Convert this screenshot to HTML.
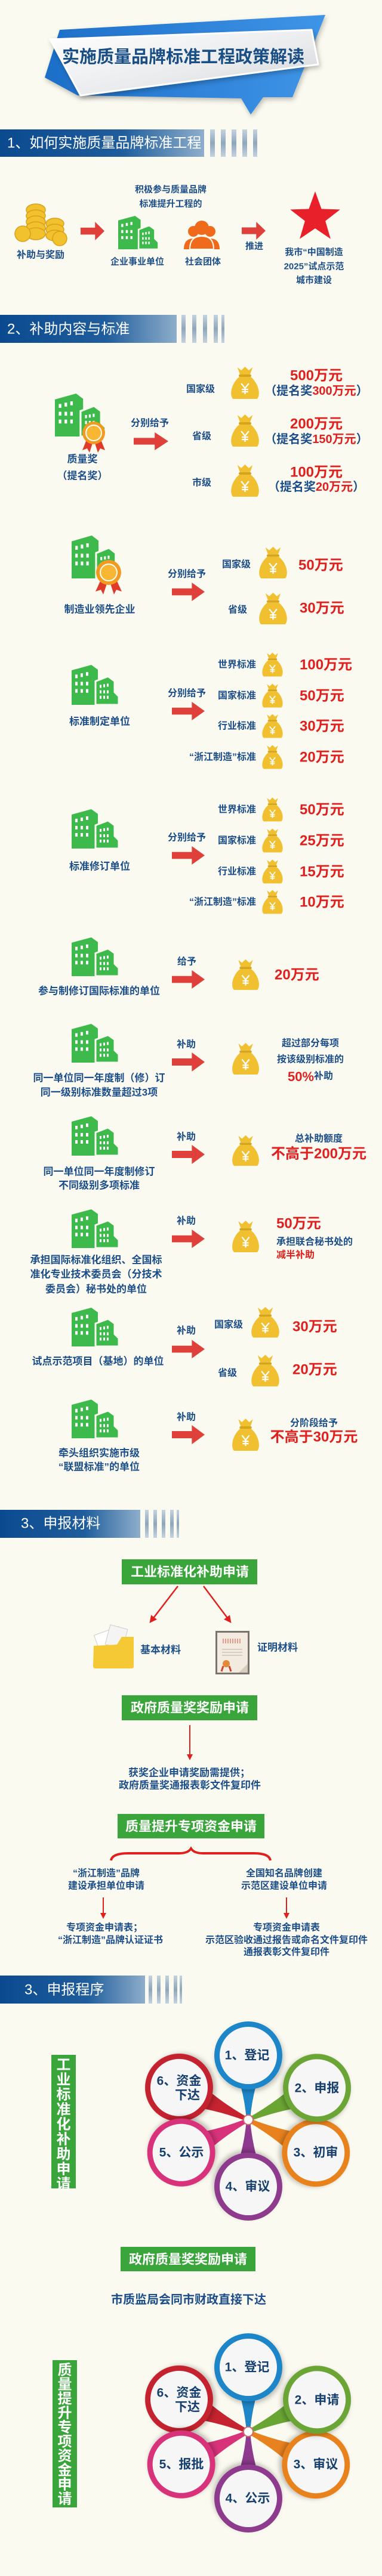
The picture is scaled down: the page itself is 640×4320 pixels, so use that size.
<!DOCTYPE html>
<html><head><meta charset="utf-8">
<style>
html,body{margin:0;padding:0;background:#fbfaf0;}
svg{display:block}
text{font-family:"Liberation Sans","Noto Sans CJK SC",sans-serif;font-weight:700;fill:#1c4e8a;dominant-baseline:central}
.m{text-anchor:middle}
.e{text-anchor:end}
.red{fill:#e0201e}
.w{fill:#fff}
.h{font-weight:400;fill:#fff;font-size:24px}
.s16{font-size:16px}.s15{font-size:15px}.s17{font-size:17px}.s20{font-size:20px}.s24{font-size:24px}
.c{font-size:21px;fill:#17406f}
</style></head>
<body>
<svg width="640" height="4320" viewBox="0 0 640 4320" xmlns="http://www.w3.org/2000/svg">
<defs>
<linearGradient id="hdr" x1="0" x2="1"><stop offset="0" stop-color="#0b4a8f"/><stop offset="0.6" stop-color="#1f5d9c"/><stop offset="1" stop-color="#8eaecb"/></linearGradient>
<linearGradient id="str" x1="0" y1="0" x2="0" y2="1"><stop offset="0" stop-color="#c5d3df"/><stop offset="0.5" stop-color="#8fa6bb"/><stop offset="1" stop-color="#c5d3df"/></linearGradient>
<linearGradient id="blu" x1="0" x2="1"><stop offset="0" stop-color="#1d6fc8"/><stop offset="1" stop-color="#3f95e8"/></linearGradient>
<linearGradient id="plate" x1="0" y1="0" x2="1" y2="1"><stop offset="0" stop-color="#ffffff"/><stop offset="0.6" stop-color="#e9eaec"/><stop offset="1" stop-color="#c9cdd1"/></linearGradient>
<filter id="sh" x="-20%" y="-20%" width="140%" height="150%"><feDropShadow dx="2" dy="4" stdDeviation="4" flood-color="#000" flood-opacity="0.25"/></filter>
<symbol id="bld" viewBox="0 0 82 66" preserveAspectRatio="none">
<path d="M0 9 L33 0 L44 8 L44 66 L0 66Z" fill="#3dba4b"/>
<path d="M40 27 L61 19 L72 27 L72 45 L79 52 L79 66 L40 66Z" fill="#3dba4b" stroke="#fbfaf0" stroke-width="3"/>
<g fill="#fff"><rect x="6" y="16" width="4" height="6"/><rect x="15" y="14" width="4" height="6"/><rect x="24" y="12" width="4" height="6"/>
<rect x="6" y="28" width="4" height="6"/><rect x="15" y="28" width="4" height="6"/><rect x="24" y="28" width="4" height="6"/>
<rect x="6" y="40" width="4" height="6"/><rect x="15" y="40" width="4" height="6"/><rect x="24" y="40" width="4" height="6"/>
<rect x="47" y="33" width="3" height="5"/><rect x="53" y="32" width="3" height="5"/><rect x="59" y="31" width="3" height="5"/>
<rect x="47" y="42" width="3" height="5"/><rect x="53" y="42" width="3" height="5"/><rect x="59" y="42" width="3" height="5"/>
<rect x="47" y="51" width="3" height="5"/><rect x="53" y="51" width="3" height="5"/><rect x="59" y="51" width="3" height="5"/></g>
</symbol>
<symbol id="bag" viewBox="0 0 50 58" preserveAspectRatio="none">
<path d="M13 3 L19 8 L25 2 L31 8 L37 3 L33 15 L17 15Z" fill="#f0c030"/>
<rect x="15" y="15" width="20" height="4" rx="2" fill="#d6a51e"/>
<path d="M16 19 C3 30 0 50 6 56 L44 56 C50 50 47 30 34 19Z" fill="#f0c030"/>
<path d="M19 30 L25 38 L31 30 M25 38 V48 M20 40 H30 M20 44 H30" stroke="#fff" stroke-width="2.2" fill="none"/>
</symbol>
<symbol id="arr" viewBox="0 0 56 32" preserveAspectRatio="none">
<path d="M0 10 H34 V0 L56 16 L34 32 V22 H0Z" fill="#e0403a"/>
</symbol>
<marker id="ah" viewBox="0 0 10 10" refX="8" refY="5" markerWidth="5" markerHeight="5" orient="auto"><path d="M0 0 L10 5 L0 10Z" fill="#e0201e"/></marker>
<g id="flower">
<g transform="translate(416,3555)">
<g transform="rotate(-65)"><path d="M-3 0 Q-8 -70 -32 -128 L32 -128 Q8 -70 3 0Z" fill="#c4232f"/><circle cx="0" cy="-128" r="57" fill="#c4232f" filter="url(#sh)"/><circle cx="0" cy="-128" r="48" fill="#f6f6f6"/></g>
<g transform="rotate(-116)"><path d="M-3 0 Q-8 -70 -32 -125 L32 -125 Q8 -70 3 0Z" fill="#d8327a"/><circle cx="0" cy="-125" r="57" fill="#d8327a" filter="url(#sh)"/><circle cx="0" cy="-125" r="48" fill="#f6f6f6"/></g>
<g transform="rotate(116)"><path d="M-3 0 Q-8 -70 -32 -126 L32 -126 Q8 -70 3 0Z" fill="#e8821e"/><circle cx="0" cy="-126" r="57" fill="#e8821e" filter="url(#sh)"/><circle cx="0" cy="-126" r="48" fill="#f6f6f6"/></g>
<g transform="rotate(65)"><path d="M-3 0 Q-8 -70 -32 -127 L32 -127 Q8 -70 3 0Z" fill="#6aa534"/><circle cx="0" cy="-127" r="57" fill="#6aa534" filter="url(#sh)"/><circle cx="0" cy="-127" r="48" fill="#f6f6f6"/></g>
<g transform="rotate(180)"><path d="M-3 0 Q-8 -60 -32 -112 L32 -112 Q8 -60 3 0Z" fill="#8e3a8e"/><circle cx="0" cy="-112" r="57" fill="#8e3a8e" filter="url(#sh)"/><circle cx="0" cy="-112" r="48" fill="#f6f6f6"/></g>
<g transform="rotate(0)"><path d="M-3 0 Q-8 -60 -32 -108 L32 -108 Q8 -60 3 0Z" fill="#1f86c8"/><circle cx="0" cy="-108" r="57" fill="#1f86c8" filter="url(#sh)"/><circle cx="0" cy="-108" r="48" fill="#f6f6f6"/></g>
<circle r="8" fill="#fff" stroke="#d06a6a" stroke-width="2"/>
</g>
</g>
</defs>

<!-- Title banner -->
<polygon points="100,50 545,25 490,163 441,163 420,192 404,165 130,160 75,130" fill="url(#blu)" filter="url(#sh)"/>
<polygon points="84,66 522,50 533,108 135,160" fill="url(#plate)" filter="url(#sh)" stroke="#fff" stroke-width="3" stroke-linejoin="round"/>
<text x="307" y="96" class="m" style="font-size:29px;fill:#1a4f86">实施质量品牌标准工程政策解读</text>

<!-- Section 1 header -->
<rect x="0" y="217" width="342" height="46" fill="url(#hdr)"/>
<g fill="url(#str)"><rect x="352" y="217" width="8" height="46"/><rect x="370" y="217" width="8" height="46"/><rect x="388" y="217" width="8" height="46"/><rect x="406" y="217" width="8" height="46"/><rect x="424" y="217" width="7" height="46"/></g>
<text x="12" y="240" class="h">1、如何实施质量品牌标准工程</text>

<text x="286" y="318" class="m s15">积极参与质量品牌</text>
<text x="286" y="342" class="m s15">标准提升工程的</text>
<!-- coins -->
<g fill="#f2c12e" stroke="#d9a11a" stroke-width="1.5">
<ellipse cx="60" cy="352" rx="16" ry="10"/><ellipse cx="60" cy="362" rx="16" ry="10"/><ellipse cx="60" cy="372" rx="16" ry="10"/><ellipse cx="60" cy="382" rx="16" ry="10"/><ellipse cx="60" cy="392" rx="16" ry="10"/>
<ellipse cx="92" cy="375" rx="15" ry="9"/><ellipse cx="92" cy="385" rx="15" ry="9"/><ellipse cx="92" cy="395" rx="15" ry="9"/>
<circle cx="38" cy="392" r="13"/><circle cx="100" cy="400" r="12"/>
</g>
<text x="68" y="428" class="m s16">补助与奖励</text>
<use href="#arr" x="135" y="372" width="40" height="31"/>
<use href="#bld" x="198" y="362" width="70" height="56"/>
<text x="230" y="439" class="m s15">企业事业单位</text>
<g fill="#f06a1c">
<circle cx="324" cy="388" r="9"/><path d="M308 418 Q308 400 324 400 Q340 400 340 418Z"/>
<circle cx="352" cy="388" r="9"/><path d="M336 418 Q336 400 352 400 Q368 400 368 418Z"/>
<circle cx="338" cy="382" r="12"/><path d="M318 418 Q318 396 338 396 Q358 396 358 418Z" stroke="#fbfaf0" stroke-width="2"/>
</g>
<text x="340" y="439" class="m s15">社会团体</text>
<use href="#arr" x="405" y="372" width="40" height="30"/>
<text x="426" y="413" class="m s15">推进</text>
<polygon points="528,321 538.6,350.4 569.8,351.4 545.1,370.6 553.9,400.6 528,383 502.1,400.6 510.9,370.6 486.2,351.4 517.4,350.4" fill="#e8202a"/>
<text x="526" y="423" class="m s15">我市“中国制造</text>
<text x="526" y="447" class="m s15">2025”试点示范</text>
<text x="526" y="470" class="m s15">城市建设</text>

<!-- Section 2 header -->
<rect x="0" y="528" width="296" height="47" fill="url(#hdr)"/>
<g fill="url(#str)"><rect x="304" y="528" width="7" height="47"/><rect x="322" y="528" width="7" height="47"/><rect x="340" y="528" width="7" height="47"/><rect x="358" y="528" width="7" height="47"/><rect x="371" y="528" width="5" height="47"/></g>
<text x="12" y="552" class="h">2、补助内容与标准</text>

<!-- Quality award -->
<use href="#bld" x="92" y="660" width="88" height="72"/>
<g><path d="M146 735 L138 755 L146 752 L150 759 L156 740Z" fill="#e03a2a"/><path d="M168 735 L176 755 L168 752 L164 759 L158 740Z" fill="#e03a2a"/>
<circle cx="157" cy="726" r="19" fill="#f39a1e"/><circle cx="157" cy="726" r="13" fill="#f7b733" stroke="#fff" stroke-width="2"/></g>
<text x="138" y="770" class="m s17">质量奖</text>
<text x="138" y="798" class="m s17">（提名奖）</text>
<text x="251" y="710" class="m s16">分别给予</text>
<use href="#arr" x="224" y="725" width="58" height="30"/>
<text x="336" y="653" class="m s16">国家级</text>
<use href="#bag" x="384" y="613" width="53" height="58"/>
<text x="530" y="630" class="m s24 red">500万元</text>
<text x="530" y="656" class="m s20">（提名奖<tspan class="red">300万元</tspan>）</text>
<text x="338" y="732" class="m s16">省级</text>
<use href="#bag" x="384" y="693" width="53" height="58"/>
<text x="530" y="711" class="m s24 red">200万元</text>
<text x="530" y="737" class="m s20">（提名奖<tspan class="red">150万元</tspan>）</text>
<text x="338" y="810" class="m s16">市级</text>
<use href="#bag" x="384" y="777" width="53" height="58"/>
<text x="530" y="792" class="m s24 red">100万元</text>
<text x="530" y="817" class="m s20">（提名奖<tspan class="red">20万元</tspan>）</text>

<!-- Manufacturing leader -->
<use href="#bld" x="120" y="898" width="84" height="72"/>
<g><path d="M170 970 L160 992 L169 989 L173 997 L180 976Z" fill="#e03a2a"/><path d="M194 970 L204 992 L195 989 L191 997 L184 976Z" fill="#e03a2a"/>
<circle cx="182" cy="960" r="21" fill="#f39a1e"/><circle cx="182" cy="960" r="14" fill="#f7b733" stroke="#fff" stroke-width="2"/></g>
<text x="167" y="1022" class="m s17">制造业领先企业</text>
<text x="313" y="963" class="m s16">分别给予</text>
<use href="#arr" x="288" y="977" width="55" height="31"/>
<text x="396" y="947" class="m s16">国家级</text>
<use href="#bag" x="431" y="915" width="53" height="57"/>
<text x="500" y="948" class="s24 red">50万元</text>
<text x="398" y="1023" class="m s16">省级</text>
<use href="#bag" x="431" y="992" width="53" height="57"/>
<text x="502" y="1020" class="s24 red">30万元</text>

<!-- 标准制定单位 -->
<use href="#bld" x="120" y="1115" width="82" height="67"/>
<text x="167" y="1210" class="m s17">标准制定单位</text>
<text x="313" y="1163" class="m s16">分别给予</text>
<use href="#arr" x="288" y="1177" width="55" height="31"/>
<text x="429" y="1115" class="e s16">世界标准</text><use href="#bag" x="437" y="1093" width="39" height="43"/><text x="502" y="1115" class="s24 red">100万元</text>
<text x="429" y="1167" class="e s16">国家标准</text><use href="#bag" x="437" y="1145" width="39" height="43"/><text x="502" y="1167" class="s24 red">50万元</text>
<text x="429" y="1218" class="e s16">行业标准</text><use href="#bag" x="437" y="1196" width="39" height="43"/><text x="502" y="1218" class="s24 red">30万元</text>
<text x="429" y="1270" class="e s16">“浙江制造”标准</text><use href="#bag" x="437" y="1248" width="39" height="43"/><text x="502" y="1270" class="s24 red">20万元</text>

<!-- 标准修订单位 -->
<use href="#bld" x="120" y="1357" width="82" height="66"/>
<text x="167" y="1453" class="m s17">标准修订单位</text>
<text x="313" y="1405" class="m s16">分别给予</text>
<use href="#arr" x="288" y="1419" width="55" height="31"/>
<text x="429" y="1358" class="e s16">世界标准</text><use href="#bag" x="437" y="1336" width="39" height="43"/><text x="502" y="1358" class="s24 red">50万元</text>
<text x="429" y="1410" class="e s16">国家标准</text><use href="#bag" x="437" y="1388" width="39" height="43"/><text x="502" y="1410" class="s24 red">25万元</text>
<text x="429" y="1462" class="e s16">行业标准</text><use href="#bag" x="437" y="1440" width="39" height="43"/><text x="502" y="1462" class="s24 red">15万元</text>
<text x="429" y="1513" class="e s16">“浙江制造”标准</text><use href="#bag" x="437" y="1491" width="39" height="43"/><text x="502" y="1513" class="s24 red">10万元</text>

<!-- 参与制修订 -->
<use href="#bld" x="120" y="1572" width="82" height="65"/>
<text x="166" y="1662" class="m s17">参与制修订国际标准的单位</text>
<text x="313" y="1613" class="m s16">给予</text>
<use href="#arr" x="288" y="1627" width="55" height="31"/>
<use href="#bag" x="386" y="1607" width="51" height="55"/>
<text x="460" y="1635" class="s24 red">20万元</text>

<!-- 超过3项 -->
<use href="#bld" x="120" y="1717" width="82" height="65"/>
<text x="166" y="1808" class="m s17">同一单位同一年度制（修）订</text>
<text x="166" y="1832" class="m s17">同一级别标准数量超过3项</text>
<text x="312" y="1752" class="m s16">补助</text>
<use href="#arr" x="288" y="1765" width="55" height="32"/>
<use href="#bag" x="386" y="1747" width="51" height="57"/>
<text x="520" y="1750" class="m s16">超过部分每项</text>
<text x="520" y="1777" class="m s16">按该级别标准的</text>
<text x="520" y="1805" class="m s16"><tspan class="red" style="font-size:22px">50%</tspan>补助</text>

<!-- 不同级别 -->
<use href="#bld" x="120" y="1872" width="82" height="66"/>
<text x="166" y="1965" class="m s17">同一单位同一年度制修订</text>
<text x="166" y="1988" class="m s17">不同级别多项标准</text>
<text x="312" y="1907" class="m s16">补助</text>
<use href="#arr" x="288" y="1920" width="55" height="32"/>
<use href="#bag" x="386" y="1902" width="51" height="55"/>
<text x="534" y="1910" class="m s16">总补助额度</text>
<text x="534" y="1935" class="m s24 red">不高于200万元</text>

<!-- 承担国际 -->
<use href="#bld" x="120" y="2028" width="82" height="65"/>
<text x="161" y="2113" class="m s17">承担国际标准化组织、全国标</text>
<text x="161" y="2137" class="m s17">准化专业技术委员会（分技术</text>
<text x="161" y="2162" class="m s17">委员会）秘书处的单位</text>
<text x="312" y="2048" class="m s16">补助</text>
<use href="#arr" x="288" y="2062" width="55" height="31"/>
<use href="#bag" x="386" y="2045" width="51" height="57"/>
<text x="463" y="2052" class="s24 red">50万元</text>
<text x="463" y="2083" class="s16">承担联合秘书处的</text>
<text x="463" y="2105" class="s16 red">减半补助</text>

<!-- 试点示范 -->
<use href="#bld" x="120" y="2193" width="82" height="65"/>
<text x="164" y="2283" class="m s17">试点示范项目（基地）的单位</text>
<text x="312" y="2232" class="m s16">补助</text>
<use href="#arr" x="288" y="2247" width="55" height="31"/>
<text x="383" y="2222" class="m s16">国家级</text>
<use href="#bag" x="418" y="2190" width="53" height="55"/>
<text x="490" y="2225" class="s24 red">30万元</text>
<text x="381" y="2303" class="m s16">省级</text>
<use href="#bag" x="418" y="2270" width="53" height="57"/>
<text x="490" y="2297" class="s24 red">20万元</text>

<!-- 牵头 -->
<use href="#bld" x="120" y="2347" width="82" height="65"/>
<text x="166" y="2437" class="m s17">牵头组织实施市级</text>
<text x="166" y="2460" class="m s17">“联盟标准”的单位</text>
<text x="312" y="2377" class="m s16">补助</text>
<use href="#arr" x="288" y="2390" width="55" height="32"/>
<use href="#bag" x="386" y="2377" width="51" height="58"/>
<text x="526" y="2387" class="m s16">分阶段给予</text>
<text x="526" y="2410" class="m s24 red">不高于30万元</text>

<!-- Section 3 header -->
<rect x="0" y="2532" width="235" height="47" fill="url(#hdr)"/>
<g fill="url(#str)"><rect x="243" y="2532" width="6" height="47"/><rect x="257" y="2532" width="6" height="47"/><rect x="271" y="2532" width="6" height="47"/><rect x="285" y="2532" width="6" height="47"/><rect x="296" y="2532" width="4" height="47"/></g>
<text x="35" y="2555" class="h">3、申报材料</text>

<rect x="204" y="2615" width="227" height="42" fill="#3aa53a"/>
<text x="318" y="2636" class="m w" style="font-size:22px">工业标准化补助申请</text>
<line x1="298" y1="2660" x2="252" y2="2720" stroke="#e0201e" stroke-width="2.5" marker-end="url(#ah)"/>
<line x1="341" y1="2660" x2="386" y2="2720" stroke="#e0201e" stroke-width="2.5" marker-end="url(#ah)"/>
<!-- folder -->
<g><rect x="162" y="2734" width="44" height="34" fill="#fff" stroke="#ccc" transform="rotate(-20 184 2751)"/>
<rect x="180" y="2728" width="30" height="34" fill="#f4f4f4" stroke="#ccc" transform="rotate(15 195 2745)"/>
<path d="M157 2760 L196 2758 L204 2745 L224 2745 L224 2795 Q224 2798 220 2798 L160 2798 Q156 2798 156 2794Z" fill="#f5c935"/></g>
<text x="235" y="2767" class="s17">基本材料</text>
<!-- certificate -->
<g><rect x="361" y="2735" width="57" height="73" fill="#7a746e"/><rect x="364" y="2738" width="51" height="67" fill="#f3ebe0"/>
<g stroke="#d96a55" stroke-width="1.2"><line x1="374" y1="2748" x2="374" y2="2756"/><line x1="378" y1="2748" x2="378" y2="2756"/><line x1="382" y1="2748" x2="382" y2="2756"/><line x1="386" y1="2748" x2="386" y2="2756"/><line x1="390" y1="2748" x2="390" y2="2756"/><line x1="394" y1="2748" x2="394" y2="2756"/><line x1="398" y1="2748" x2="398" y2="2756"/><line x1="402" y1="2748" x2="402" y2="2756"/></g>
<g stroke="#b9ada0" stroke-width="1"><line x1="372" y1="2766" x2="406" y2="2766"/><line x1="372" y1="2771" x2="406" y2="2771"/><line x1="372" y1="2776" x2="406" y2="2776"/></g>
<circle cx="379" cy="2790" r="6" fill="#e08a3a"/><path d="M374 2794 L371 2803 M384 2794 L387 2803" stroke="#d0452a" stroke-width="3"/>
<path d="M415 2790 L400 2805 L415 2805Z" fill="#d8ccbc"/></g>
<text x="431" y="2763" class="s17">证明材料</text>

<rect x="204" y="2843" width="227" height="42" fill="#3aa53a"/>
<text x="318" y="2864" class="m w" style="font-size:22px">政府质量奖奖励申请</text>
<line x1="318" y1="2893" x2="318" y2="2950" stroke="#e0201e" stroke-width="2" marker-end="url(#ah)"/>
<text x="317" y="2973" class="m s17">获奖企业申请奖励需提供；</text>
<text x="318" y="2994" class="m s17">政府质量奖通报表彰文件复印件</text>

<rect x="197" y="3042" width="246" height="41" fill="#3aa53a"/>
<text x="320" y="3063" class="m w" style="font-size:22px">质量提升专项资金申请</text>
<path d="M186 3120 Q188 3108 215 3108 L300 3108 Q315 3108 320 3100 Q325 3108 340 3108 L425 3108 Q451 3108 453 3120" fill="none" stroke="#e0201e" stroke-width="4"/>
<text x="178" y="3142" class="m s16">“浙江制造”品牌</text>
<text x="178" y="3163" class="m s16">建设承担单位申请</text>
<text x="476" y="3142" class="m s16">全国知名品牌创建</text>
<text x="476" y="3163" class="m s16">示范区建设单位申请</text>
<line x1="173" y1="3182" x2="173" y2="3216" stroke="#e0201e" stroke-width="2" marker-end="url(#ah)"/>
<line x1="480" y1="3182" x2="480" y2="3216" stroke="#e0201e" stroke-width="2" marker-end="url(#ah)"/>
<text x="175" y="3233" class="m s16">专项资金申请表；</text>
<text x="185" y="3254" class="m s16">“浙江制造”品牌认证证书</text>
<text x="480" y="3233" class="m s16">专项资金申请表</text>
<text x="480" y="3254" class="m s16">示范区验收通过报告或命名文件复印件</text>
<text x="480" y="3274" class="m s16">通报表彰文件复印件</text>

<!-- Section 3b header -->
<rect x="0" y="3313" width="243" height="47" fill="url(#hdr)"/>
<g fill="url(#str)"><rect x="249" y="3313" width="6" height="47"/><rect x="263" y="3313" width="6" height="47"/><rect x="277" y="3313" width="6" height="47"/><rect x="291" y="3313" width="6" height="47"/><rect x="301" y="3313" width="4" height="47"/></g>
<text x="41" y="3337" class="h">3、申报程序</text>

<!-- vertical box 1 -->
<rect x="86" y="3446" width="41" height="224" fill="#3aa53a"/>
<g class="w" style="font-size:24px">
<text x="106.5" y="3463" class="m w" style="font-size:24px">工</text><text x="106.5" y="3488" class="m w" style="font-size:24px">业</text><text x="106.5" y="3513" class="m w" style="font-size:24px">标</text><text x="106.5" y="3538" class="m w" style="font-size:24px">准</text><text x="106.5" y="3563" class="m w" style="font-size:24px">化</text><text x="106.5" y="3588" class="m w" style="font-size:24px">补</text><text x="106.5" y="3613" class="m w" style="font-size:24px">助</text><text x="106.5" y="3638" class="m w" style="font-size:24px">申</text><text x="106.5" y="3663" class="m w" style="font-size:24px">请</text>
</g>
<use href="#flower"/>
<text x="414" y="3447" class="m c">1、登记</text>
<text x="531" y="3502" class="m c">2、申报</text>
<text x="529" y="3610" class="m c">3、初审</text>
<text x="415" y="3667" class="m c">4、审议</text>
<text x="304" y="3610" class="m c">5、公示</text>
<text x="300" y="3490" class="m c">6、资金</text>
<text x="314" y="3514" class="m c">下达</text>

<rect x="202" y="3768" width="226" height="41" fill="#3aa53a"/>
<text x="315" y="3789" class="m w" style="font-size:22px">政府质量奖奖励申请</text>
<text x="316" y="3857" class="m s20">市质监局会同市财政直接下达</text>

<!-- vertical box 2 -->
<rect x="88" y="3958" width="41" height="247" fill="#3aa53a"/>
<text x="108.5" y="3975" class="m w" style="font-size:24px">质</text><text x="108.5" y="3999" class="m w" style="font-size:24px">量</text><text x="108.5" y="4023" class="m w" style="font-size:24px">提</text><text x="108.5" y="4047" class="m w" style="font-size:24px">升</text><text x="108.5" y="4071" class="m w" style="font-size:24px">专</text><text x="108.5" y="4095" class="m w" style="font-size:24px">项</text><text x="108.5" y="4119" class="m w" style="font-size:24px">资</text><text x="108.5" y="4143" class="m w" style="font-size:24px">金</text><text x="108.5" y="4167" class="m w" style="font-size:24px">申</text><text x="108.5" y="4191" class="m w" style="font-size:24px">请</text>
<use href="#flower" y="523"/>
<text x="414" y="3970" class="m c">1、登记</text>
<text x="531" y="4025" class="m c">2、申请</text>
<text x="529" y="4133" class="m c">3、审议</text>
<text x="415" y="4190" class="m c">4、公示</text>
<text x="304" y="4133" class="m c">5、报批</text>
<text x="300" y="4013" class="m c">6、资金</text>
<text x="314" y="4037" class="m c">下达</text>
</svg>
</body></html>
